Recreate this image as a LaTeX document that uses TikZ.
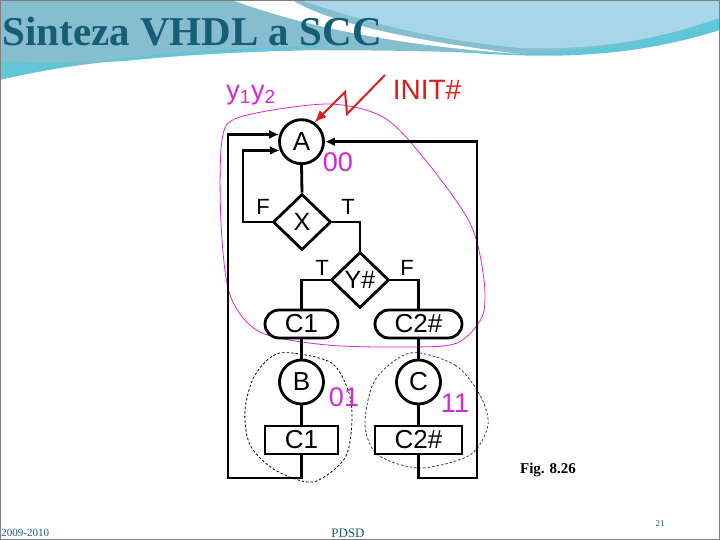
\documentclass[tikz,border=0pt]{standalone}
\usepackage{fontspec}
\setmainfont{Liberation Serif}
\newfontfamily\arialfont{Liberation Sans}
\usetikzlibrary{shapes.geometric,arrows.meta}

\definecolor{titleteal}{RGB}{22,94,118}
\definecolor{wavegray}{RGB}{134,190,208}
\definecolor{wavelight}{RGB}{166,214,232}
\definecolor{wavecyan}{RGB}{96,198,216}
\definecolor{stmag}{RGB}{214,40,214}
\definecolor{initred}{RGB}{222,30,30}
\definecolor{blobblue}{RGB}{50,50,140}

\tikzset{
  state/.style={circle,draw,minimum size=44pt,inner sep=0pt,font=\arialfont\fontsize{26}{26}\selectfont},
  decision/.style={diamond,draw,aspect=1,minimum width=58pt,minimum height=56pt,inner sep=0pt,font=\arialfont\fontsize{25}{25}\selectfont},
  condcmd/.style={rectangle,rounded corners=14pt,draw,minimum width=73pt,minimum height=28pt,inner sep=0pt,font=\arialfont\fontsize{26}{26}\selectfont},
  cmdbox/.style={rectangle,draw,minimum width=73pt,minimum height=28pt,inner sep=0pt,font=\arialfont\fontsize{26}{26}\selectfont},
  branch/.style={font=\arialfont\fontsize{22}{22}\selectfont},
  code/.style={text=stmag,font=\arialfont\fontsize{27}{27}\selectfont}
}

\begin{document}
\begin{tikzpicture}[x=1pt,y=-1pt,>={Latex[length=10pt,width=9pt]},line width=2.8pt]
\useasboundingbox (0,0) rectangle (720,540);
% slide background
\fill[white] (0,0) rectangle (720,540);
\fill[wavegray] (0,0) -- (720,0) -- (720,22) .. controls (640,48) and (580,56) .. (500,54)
  .. controls (330,46) and (120,50) .. (0,80) -- cycle;
\fill[wavelight] (300,0) -- (720,0) -- (720,20) .. controls (640,44) and (580,50) .. (520,48)
  .. controls (430,40) and (360,20) .. (300,0) -- cycle;
\fill[wavecyan] (0,80) .. controls (90,58) and (200,48) .. (330,46)
  .. controls (220,56) and (100,66) .. (0,62) -- cycle;
\fill[wavecyan] (440,50) .. controls (560,60) and (640,45) .. (720,18) -- (720,30)
  .. controls (640,55) and (560,62) .. (440,50) -- cycle;
\fill[white] (232,0) .. controls (300,25) and (390,45) .. (520,54)
  .. controls (390,38) and (320,18) .. (292,0) -- cycle;
\fill[white] (0,80) .. controls (100,60) and (200,52) .. (330,50)
  .. controls (200,58) and (100,70) .. (0,88) -- cycle;
\draw[gray,line width=1pt] (0.5,0.5) rectangle (719.5,539.5);

% title and footer
\node[anchor=base west,inner sep=0pt,text=titleteal,font=\bfseries\fontsize{41}{41}\selectfont] (title) at (1,46) {Sinteza VHDL a SCC};
\node[anchor=base west,inner sep=0pt,text=titleteal,font=\fontsize{11}{11}\selectfont] (years) at (0,536) {2009-2010};
\node[anchor=base,inner sep=0pt,text=titleteal,font=\fontsize{13}{13}\selectfont] (course) at (348,537) {PDSD};
\node[anchor=base,inner sep=0pt,text=titleteal,font=\fontsize{9}{9}\selectfont] (pageno) at (660,526) {21};
\node[anchor=base,inner sep=0pt,font=\bfseries\fontsize{15}{15}\selectfont] (fig) at (548,473) {Fig. 8.26};

% state groups
\draw[stmag,line width=0.8pt] plot[smooth cycle] coordinates {(327,104) (383,117) (423,157) (470,223) (484,280)
  (482,317) (457,343) (410,347) (327,345) (260,332) (230,295) (221,223) (222,140) (240,117)};
\draw[black,line width=0.8pt,dash pattern=on 2.5pt off 2pt] plot[smooth cycle] coordinates {(280,353) (330,362)
  (348,390) (352,420) (345,458) (313,482) (275,470) (250,445) (245,410) (255,375)};
\draw[blobblue,line width=0.8pt,dash pattern=on 2.5pt off 2pt] plot[smooth cycle] coordinates {(410,353) (455,365)
  (480,395) (488,425) (470,455) (420,468) (378,455) (365,425) (375,380)};

% ASM chart
\node[state] (A) at (301.5,141.7) {A};
\node[decision] (X) at (302,222) {X};
\node[decision] (Y) at (360,280) {Y\#};
\node[condcmd] (C1a) at (301.5,324) {C1};
\node[condcmd,minimum width=87pt] (C2a) at (418.5,324) {C2\#};
\node[state] (B) at (301.5,382) {B};
\node[state] (C) at (418.5,382) {C};
\node[cmdbox] (C1b) at (301.5,440) {C1};
\node[cmdbox,minimum width=87pt] (C2b) at (418.5,440) {C2\#};

\coordinate (xl) at (243,222);
\coordinate (lbot) at (228,478);
\coordinate (rbot) at (477,478);

\draw (A.south) -- (X.north);
\draw[->] (X.west) -- (xl) |- (A.202);
\draw (X.east) -| (Y.north);
\draw (Y.west) -| (C1a.north);
\draw (Y.east) -| (C2a.north);
\draw (C1a.south) -- (B.north);
\draw (C2a.south) -- (C.north);
\draw (B.south) -- (C1b.north);
\draw (C.south) -- (C2b.north);
\draw[->] (C1b.south) |- (lbot) |- (A.162);
\draw[->] (C2b.south) |- (rbot) |- (A.east);

\node[branch] (fx) at (263,207) {F};
\node[branch] (tx) at (348,207) {T};
\node[branch] (ty) at (322,268) {T};
\node[branch] (fy) at (407,268) {F};

% state codes
\node[code] (codeA) at (338,162) {00};
\node[code] (codeB) at (344,397) {01};
\node[code] (codeC) at (455,403) {11};
\node[code] (vars) at (251,95) {y\textsubscript{1}y\textsubscript{2}};

% reset
\node[text=initred,font=\arialfont\fontsize{28}{28}\selectfont] (init) at (427,90) {INIT\#};
\coordinate (z1) at (385,75);
\coordinate (z2) at (347,114);
\coordinate (z3) at (345,92);
\draw[initred,line width=2pt,->,>={Latex[length=12pt,width=10pt]}] (z1) -- (z2) -- (z3) -- (A.56);
\end{tikzpicture}
\end{document}
